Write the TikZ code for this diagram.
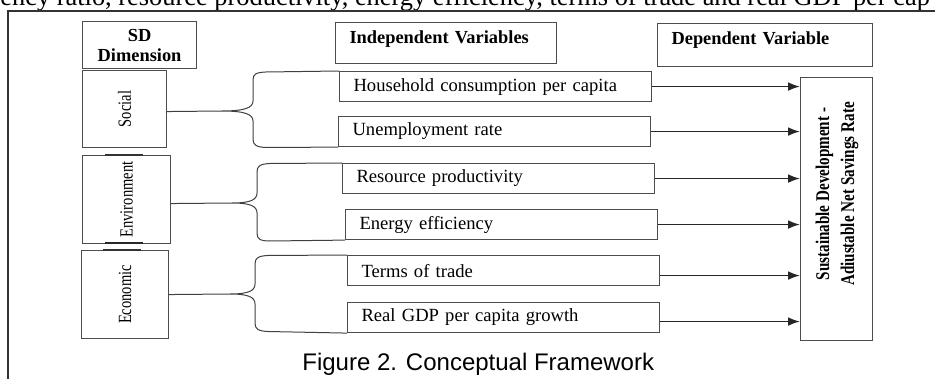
\documentclass[tikz,border=0pt]{standalone}
\usepackage{fontspec}
\setmainfont{Liberation Serif}
\newfontfamily\capfont{Liberation Sans}
\newfontfamily\narrowfont[FakeStretch=0.78]{Liberation Serif}
\usetikzlibrary{arrows.meta}

\tikzset{
  headbox/.style={draw=black!70,line width=0.55pt,anchor=north west,inner xsep=7pt,inner ysep=3pt,
    align=left,font=\bfseries\fontsize{9.2}{10}\selectfont},
  dimbox/.style={draw=black!70,line width=0.55pt,anchor=north west,inner sep=0pt,
    font=\narrowfont\fontsize{9.3}{10}\selectfont},
  varbox/.style={draw=black!70,line width=0.55pt,anchor=north west,inner xsep=7pt,inner ysep=0pt,
    text width=142pt,minimum height=15pt,align=left,font=\fontsize{9.3}{11}\selectfont},
  brace/.style={draw=black!75,line width=0.5pt},
  link/.style={draw=black!85,line width=0.85pt,-{Latex[length=6pt,width=4.4pt]}},
}

\begin{document}
\begin{tikzpicture}[x=0.5pt,y=-0.5pt]
\useasboundingbox (0,0) rectangle (935,379);
\clip (0,0) rectangle (935,379);
% running text of the page and the frame
\node[anchor=base west,inner sep=0pt,font=\fontsize{13.2}{15}\selectfont] (running) at (0,6)
  {ency ratio, resource productivity, energy efficiency, terms of trade and real GDP per cap};
\draw[black!80,line width=0.9pt] (8,390) -- (8,11) -- (945,11);

% column heads
\node[headbox,minimum width=57pt,minimum height=23.5pt,align=center] (sd) at (82,21) {SD\\Dimension};
\node[headbox,text width=96.5pt,text height=7.5pt,text depth=7pt] (iv) at (335,22) {Independent Variables};
\node[headbox,text width=93.5pt,text height=7.5pt,text depth=8pt] (dv) at (657,23) {Dependent Variable};

% SD dimensions
\node[dimbox,minimum width=42pt,minimum height=38.5pt] (soc) at (82,70) {\rotatebox{90}{Social}};
\node[dimbox,minimum width=44pt,minimum height=44pt] (env) at (82,155) {\rotatebox{90}{Environment}};
\node[dimbox,minimum width=43.5pt,minimum height=44pt] (eco) at (81,250) {\rotatebox{90}{Economic}};
\draw[black!85,line width=1.4pt] (105,243) -- (143,243);
\draw[black!80,line width=0.8pt] (105,155) -- (143,155);
\draw[black!80,line width=0.8pt] (103,250) -- (141,250);

% independent variables
\node[varbox] (hh) at (339,71) {Household consumption per capita};
\node[varbox] (un) at (338,116) {Unemployment rate};
\node[varbox] (rp) at (342,163) {Resource productivity};
\node[varbox] (ee) at (345,209) {Energy efficiency};
\node[varbox] (tt) at (347,255) {Terms of trade};
\node[varbox] (gdp) at (347,302) {Real GDP per capita growth};

% dependent variable
\node[dimbox,font=\narrowfont\bfseries\fontsize{9.7}{12.5}\selectfont,minimum width=36pt,minimum height=131.5pt] (sdr) at (800,77)
  {\rotatebox{90}{\hspace*{15pt}\begin{tabular}{@{}c@{}}Sustainable Development -\\Adiustable Net Savings Rate\end{tabular}}};

% braces
\draw[brace] ([yshift=-1.25pt]soc.east) -- (222,111) .. controls (244,111) and (253,108) .. (253,101)
  -- (253,80) .. controls (253,74) and (256,72.5) .. (266,72) -- (hh.north west)
  (222,111) .. controls (244,111) and (253,114) .. (253,121)
  -- (253,139) .. controls (253,145) and (256,147) .. (266,147.5) -- (un.south west);
\draw[brace] ([yshift=-2pt]env.east) -- (232,203) .. controls (250,203) and (257,200) .. (257,193)
  -- (257,172) .. controls (257,166) and (260,164) .. (270,163.5) -- (rp.north west)
  (232,203) .. controls (250,203) and (257,206) .. (257,213)
  -- (257,233) .. controls (257,239) and (260,241) .. (270,241) -- (ee.south west);
\draw[brace] (eco.east) -- (230,294) .. controls (248,294) and (255,291) .. (255,284)
  -- (255,264) .. controls (255,258) and (258,256) .. (268,255.5) -- (tt.north west)
  (230,294) .. controls (248,294) and (255,297) .. (255,304)
  -- (255,323) .. controls (255,329) and (258,331) .. (268,331.5) -- (gdp.south west);

% arrows into the dependent variable
\foreach \v in {hh,un,rp,ee}
  \draw[link] (\v.east) -- (\v.east -| sdr.west);
\coordinate (ttout) at ([yshift=-2.5pt]tt.east);
\coordinate (gdpout) at ([yshift=-2pt]gdp.east);
\draw[link] (ttout) -- (ttout -| sdr.west);
\draw[link] (gdpout) -- (gdpout -| sdr.west);

\node[anchor=base west,inner sep=0pt,font=\capfont\fontsize{12}{14}\selectfont] (cap) at (302,370)
  {Figure 2. Conceptual Framework};
\end{tikzpicture}
\end{document}
